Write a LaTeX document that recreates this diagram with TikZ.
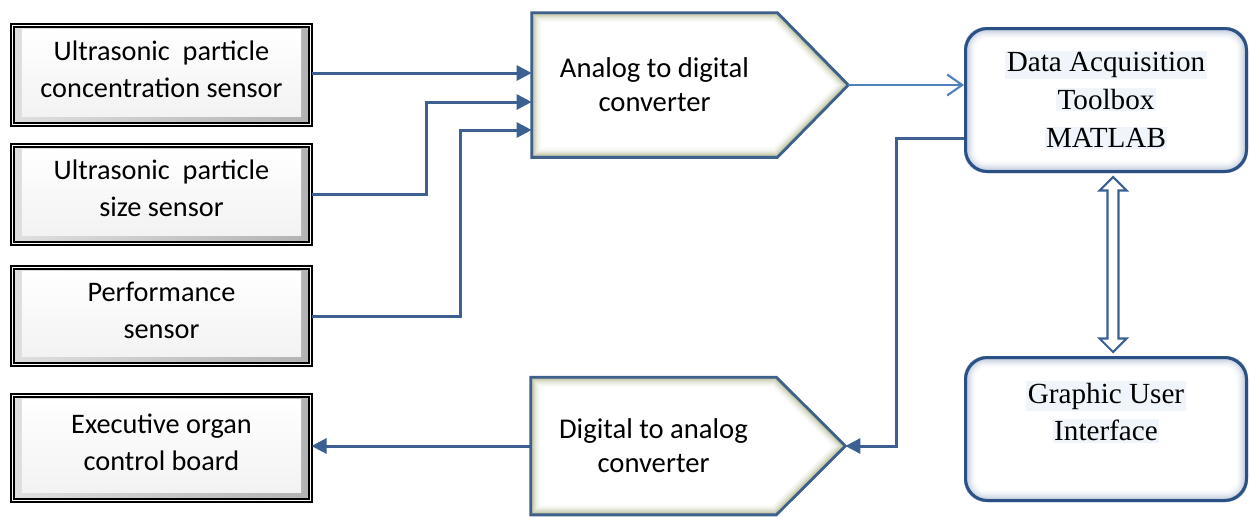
\documentclass[tikz,border=0pt]{standalone}
\usepackage{fontspec}
\setmainfont{Carlito}
\newfontfamily\timesfont{Liberation Serif}
\usetikzlibrary{arrows.meta,calc,backgrounds}
\definecolor{lineblue}{RGB}{59,96,145}
\definecolor{lightblue}{RGB}{79,129,189}
\definecolor{framblue}{RGB}{62,96,140}
\definecolor{glowolive}{RGB}{168,175,130}
\definecolor{boxblue}{RGB}{42,80,132}
\definecolor{glowblue}{RGB}{150,168,198}
\definecolor{hilite}{RGB}{240,245,251}
\setlength{\fboxsep}{0.8pt}

\tikzset{
    sensor/.style={draw=black, line width=1pt, double=white, double distance=0.7pt,
        minimum width=5.965cm, align=center, text depth=0.24cm, font=\fontsize{16.1}{21}\selectfont,
        path picture={
            \shade[left color=gray!25, right color=gray!60]
                ([shift={(0.06,0.06)}]path picture bounding box.south west) rectangle
                ([shift={(-0.06,-0.06)}]path picture bounding box.north east);
            \shade[top color=white, bottom color=gray!10]
                ([shift={(0.19,0.16)}]path picture bounding box.south west) rectangle
                ([shift={(-0.19,-0.09)}]path picture bounding box.north east);
        }},
    conv/.style={minimum width=4.9cm, align=center, font=\fontsize{16.3}{19.5}\selectfont},
    dabox/.style={draw=boxblue, line width=1.7pt, rounded corners=0.44cm,
        minimum width=5.62cm, minimum height=2.86cm},
    serif/.style={align=center, font=\timesfont\fontsize{16.6}{21.6}\selectfont},
    conn/.style={draw=lineblue, line width=1.7pt, -{Triangle[length=0.3cm,width=0.3cm]}},
    lightconn/.style={draw=lightblue, line width=1.2pt, -{Straight Barb[length=0.3cm,width=0.42cm]}}
}

\begin{document}
\begin{tikzpicture}
    \useasboundingbox (0,0) rectangle (25,-10.32);

    % Sensor blocks and the control board
    \node[sensor, minimum height=1.985cm] (s1) at (3.23,-1.5) {Ultrasonic\ \ particle\\concentration sensor};
    \node[sensor, minimum height=1.965cm] (s2) at (3.23,-3.89) {Ultrasonic\ \ particle\\size sensor};
    \node[sensor, minimum height=1.945cm] (s3) at (3.23,-6.32) {Performance\\sensor};
    \node[sensor, minimum height=2.105cm] (board) at (3.23,-8.96) {Executive organ\\control board};

    % Converters (text part, the pointed tip is added below)
    \node[conv, minimum height=2.88cm] (adc) at (13.09,-1.70) {Analog to digital\\converter};
    \coordinate (adctip) at ($(adc.east)+(1.42,0)$);
    \node[conv, minimum height=2.74cm] (dac) at (13.07,-8.92) {Digital to analog\\converter};
    \coordinate (dactip) at ($(dac.east)+(1.38,0)$);

    % MATLAB side
    \node[dabox, serif] (daq) at (22.12,-2.0) {\colorbox{hilite}{Data Acquisition}\\\colorbox{hilite}{Toolbox}\\\colorbox{hilite}{MATLAB}};
    \node[dabox] (gui) at (22.12,-8.58) {};
    \node[serif] (guitext) at ($(gui)+(0,0.34)$) {\colorbox{hilite}{Graphic User}\\\colorbox{hilite}{Interface}};

    % Glow fills and outlines behind the text
    \begin{scope}[on background layer]
        \foreach \cv/\tp in {adc/adctip, dac/dactip} {
            \foreach \i in {0,...,9} {
                \pgfmathsetmacro\dd{0.022*\i}
                \pgfmathtruncatemacro\pp{90*(1-\i/10)^2}
                \fill[glowolive!\pp!white] ($(\cv.north west)+(\dd,-\dd)$) -- ($(\cv.north east)+(-0.414*\dd,-\dd)$)
                    -- ($(\tp)+(-1.414*\dd,0)$) -- ($(\cv.south east)+(-0.414*\dd,\dd)$) -- ($(\cv.south west)+(\dd,\dd)$) -- cycle;
            }
            \draw[framblue, line width=1.6pt, line join=miter] (\cv.north west) -- (\cv.north east) -- (\tp)
                -- (\cv.south east) -- (\cv.south west) -- cycle;
        }
        \foreach \bx in {daq,gui} {
            \foreach \i in {0,...,11} {
                \pgfmathsetmacro\dd{0.022*\i}
                \pgfmathsetmacro\rr{0.44-\dd}
                \pgfmathtruncatemacro\pp{90*(1-\i/12)^2}
                \fill[glowblue!\pp!white, rounded corners=\rr cm] ($(\bx.south west)+(\dd,\dd)$) rectangle ($(\bx.north east)-(\dd,\dd)$);
            }
        }
    \end{scope}

    % Inputs of the A/D converter
    \coordinate (in1) at ($(adc.west)+(0,0.24)$);
    \coordinate (in2) at ($(adc.west)+(0,-0.34)$);
    \coordinate (in3) at ($(adc.west)+(0,-0.9)$);
    \draw[conn] (s1.east |- in1) -- (in1);
    \draw[conn] (s2.east) -| ([xshift=-2.1cm]in2) -- (in2);
    \draw[conn] (s3.east) -| ([xshift=-1.42cm]in3) -- (in3);

    % To and from MATLAB
    \draw[lightconn] (adctip) -- (adctip -| daq.west);
    \draw[conn] ([yshift=-0.76cm]daq.west) -- ++(-1.36,0) |- (dactip);
    \draw[conn] (dac.west) -- (dac.west -| board.east);

    % Two way link between toolbox and GUI
    \coordinate (dtop) at ($(daq.south)+(0.14,-0.08)$);
    \coordinate (dbot) at ($(gui.north)+(0.14,0.08)$);
    \draw[lineblue, line width=1.2pt, fill=white, line join=miter] (dtop) -- ++(0.27,-0.27) -- ++(-0.16,0)
        -- ($(dbot)+(0.11,0.27)$) -- ++(0.16,0) -- (dbot) -- ++(-0.27,0.27) -- ++(0.16,0)
        -- ($(dtop)+(-0.11,-0.27)$) -- ++(-0.16,0) -- cycle;
\end{tikzpicture}
\end{document}
